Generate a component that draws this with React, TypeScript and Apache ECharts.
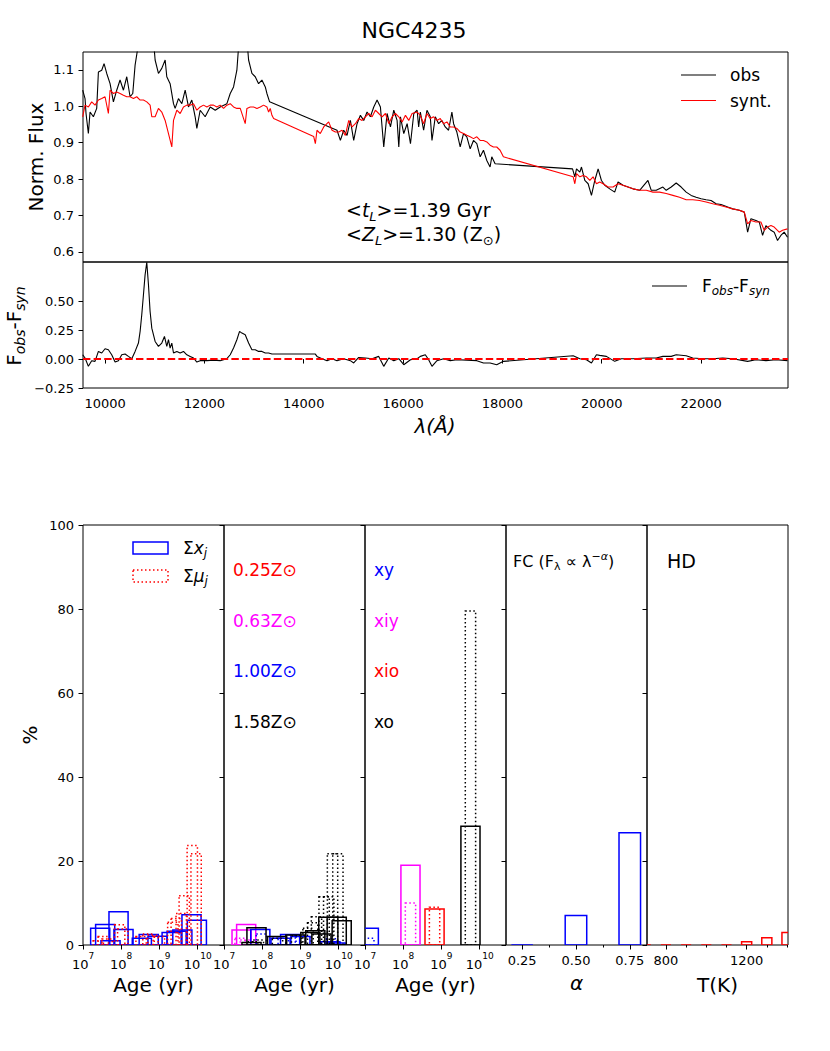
import React, { useEffect, useRef } from "react";
import * as echarts from "echarts";

const FONT = "DejaVu Sans";

// ---------------- spectrum (top panel) ----------------
const obsWave = [9550, 9597, 9617, 9664, 9698, 9765, 9832, 9866, 9933, 9980, 10034, 10101, 10168, 10235, 10302, 10370, 10437, 10504, 10558, 10605, 10652, 10706, 10740, 10773, 10806, 10840, 10874, 10907, 10941, 11008, 11075, 11142, 11210, 11243, 11310, 11378, 11411, 11478, 11546, 11613, 11680, 11747, 11814, 11848, 11915, 12016, 12117, 12218, 12318, 12453, 12520, 12587, 12654, 12708, 12755, 12822, 12870, 12890, 12957, 13024, 13091, 13158, 13226, 13259, 13313, 14670, 14738, 14805, 14872, 14939, 15006, 15074, 15141, 15208, 15275, 15342, 15410, 15477, 15544, 15611, 15678, 15746, 15813, 15880, 15914, 15947, 16014, 16082, 16149, 16216, 16283, 16314, 16348, 16414, 16481, 16548, 16582, 16649, 16716, 16782, 16849, 16916, 16983, 17017, 17083, 17150, 17217, 17284, 17351, 17418, 17485, 17552, 17619, 17686, 17752, 17786, 17853, 19412, 19458, 19492, 19559, 19592, 19659, 19726, 19793, 19860, 19927, 19994, 20061, 20161, 20261, 20328, 20428, 20529, 20629, 20763, 20930, 20997, 21097, 21231, 21298, 21399, 21499, 21599, 21700, 21800, 21900, 22001, 22101, 22201, 22302, 22402, 22536, 22636, 22770, 22870, 22937, 23004, 23104, 23171, 23238, 23305, 23406, 23472, 23539, 23606, 23673, 23740];
const obsFlux = [1.044, 1.021, 0.980, 0.925, 0.984, 0.971, 0.994, 1.094, 1.099, 1.117, 1.090, 1.062, 1.012, 1.044, 1.072, 1.044, 1.081, 1.026, 1.035, 1.113, 1.154, 1.26, 1.40, 1.57, 1.75, 1.85, 1.65, 1.41, 1.24, 1.127, 1.090, 1.104, 1.127, 1.081, 1.062, 1.007, 0.994, 1.021, 1.007, 1.044, 0.998, 1.017, 0.971, 0.939, 0.989, 0.971, 0.998, 0.989, 0.998, 1.007, 1.035, 1.053, 1.099, 1.20, 1.23, 1.21, 1.16, 1.127, 1.090, 1.081, 1.062, 1.072, 1.053, 1.035, 1.012, 0.934, 0.906, 0.934, 0.920, 0.961, 0.906, 0.952, 0.975, 0.961, 0.984, 0.971, 0.998, 1.017, 0.998, 0.888, 0.980, 0.943, 0.989, 0.961, 0.888, 0.971, 0.925, 0.952, 0.897, 0.980, 0.989, 0.943, 0.984, 0.934, 0.989, 0.971, 0.906, 0.971, 0.952, 0.961, 0.943, 0.934, 0.984, 0.952, 0.929, 0.888, 0.925, 0.916, 0.883, 0.906, 0.897, 0.861, 0.879, 0.851, 0.833, 0.861, 0.842, 0.828, 0.806, 0.828, 0.819, 0.833, 0.796, 0.787, 0.755, 0.796, 0.828, 0.796, 0.783, 0.773, 0.764, 0.792, 0.783, 0.778, 0.773, 0.769, 0.796, 0.769, 0.769, 0.778, 0.769, 0.778, 0.789, 0.778, 0.764, 0.755, 0.750, 0.746, 0.743, 0.741, 0.732, 0.730, 0.723, 0.718, 0.714, 0.709, 0.654, 0.691, 0.686, 0.682, 0.645, 0.672, 0.659, 0.654, 0.631, 0.645, 0.654, 0.640];

const synWave = [9550, 9597, 9664, 9731, 9798, 9866, 9933, 10000, 10067, 10101, 10168, 10235, 10302, 10370, 10437, 10504, 10571, 10638, 10706, 10773, 10840, 10907, 10941, 11008, 11075, 11142, 11210, 11277, 11344, 11378, 11445, 11512, 11579, 11646, 11714, 11781, 11848, 11915, 11982, 12050, 12117, 12184, 12251, 12318, 12386, 12453, 12520, 12587, 12654, 12722, 12822, 12856, 12923, 12990, 13058, 13125, 13192, 13259, 13293, 13326, 13360, 13394, 14200, 14234, 14267, 14334, 14402, 14502, 14570, 14637, 14704, 14771, 14838, 14906, 14973, 15040, 15107, 15174, 15242, 15309, 15376, 15443, 15510, 15578, 15645, 15712, 15779, 15846, 15914, 15981, 16048, 16115, 16182, 16283, 16348, 16414, 16481, 16548, 16615, 16682, 16749, 16816, 16883, 16950, 17017, 17083, 17150, 17217, 17284, 17351, 17418, 17485, 17552, 17619, 17686, 17752, 17819, 17886, 17953, 18020, 19425, 19458, 19492, 19559, 19626, 19693, 19760, 19826, 19893, 19960, 20027, 20127, 20228, 20328, 20428, 20529, 20629, 20763, 20897, 21031, 21164, 21298, 21432, 21566, 21700, 21833, 21967, 22101, 22235, 22369, 22502, 22636, 22770, 22870, 22937, 23004, 23104, 23204, 23271, 23338, 23406, 23472, 23573, 23640, 23740];
const synFlux = [0.971, 1.003, 0.998, 1.012, 1.003, 1.017, 1.021, 1.026, 0.980, 1.044, 1.035, 1.039, 1.035, 1.030, 1.026, 1.026, 1.021, 1.026, 1.017, 1.017, 1.012, 1.003, 0.971, 0.971, 0.994, 0.984, 0.961, 0.925, 0.888, 0.961, 0.989, 0.980, 0.998, 1.003, 1.003, 1.007, 0.989, 0.998, 1.003, 0.998, 1.003, 1.003, 0.998, 1.003, 0.994, 1.003, 1.007, 0.998, 0.994, 0.994, 0.952, 0.994, 0.998, 0.998, 0.994, 0.998, 1.003, 0.998, 0.984, 0.994, 0.975, 0.966, 0.917, 0.897, 0.934, 0.925, 0.943, 0.957, 0.934, 0.929, 0.929, 0.934, 0.920, 0.961, 0.943, 0.952, 0.966, 0.961, 0.971, 0.980, 0.971, 0.989, 0.980, 0.971, 0.980, 0.952, 0.971, 0.980, 0.971, 0.957, 0.975, 0.961, 0.980, 0.984, 0.975, 0.952, 0.980, 0.966, 0.971, 0.961, 0.966, 0.952, 0.957, 0.943, 0.943, 0.939, 0.929, 0.925, 0.920, 0.916, 0.911, 0.916, 0.906, 0.906, 0.902, 0.893, 0.888, 0.888, 0.879, 0.861, 0.806, 0.787, 0.815, 0.806, 0.810, 0.806, 0.796, 0.806, 0.787, 0.792, 0.787, 0.778, 0.778, 0.787, 0.783, 0.778, 0.773, 0.769, 0.769, 0.764, 0.764, 0.760, 0.755, 0.750, 0.743, 0.743, 0.741, 0.737, 0.732, 0.728, 0.723, 0.718, 0.714, 0.709, 0.677, 0.686, 0.682, 0.682, 0.659, 0.668, 0.672, 0.668, 0.654, 0.659, 0.663];

// ---------------- residual (middle panel) ----------------
const resWave = [9550, 9597, 9664, 9731, 9798, 9866, 9933, 10000, 10067, 10134, 10202, 10269, 10336, 10403, 10470, 10538, 10605, 10672, 10706, 10739, 10773, 10806, 10840, 10874, 10907, 10941, 11008, 11075, 11142, 11196, 11243, 11277, 11310, 11344, 11378, 11445, 11512, 11579, 11646, 11714, 11781, 11848, 11915, 12050, 12184, 12318, 12453, 12520, 12587, 12654, 12708, 12755, 12822, 12890, 12957, 13024, 13091, 13158, 13226, 13293, 13360, 14234, 14267, 14368, 14469, 14570, 14670, 14805, 14939, 15006, 15107, 15242, 15376, 15510, 15611, 15712, 15813, 15914, 16014, 16149, 16283, 16348, 16448, 16515, 16582, 16682, 16816, 16950, 17083, 17284, 17485, 17619, 17752, 17886, 18020, 19425, 19559, 19693, 19793, 19893, 19960, 20094, 20261, 20395, 20629, 20897, 21097, 21231, 21399, 21499, 21700, 21833, 22034, 22235, 22436, 22636, 22937, 23104, 23305, 23506, 23740];
const resFlux = [0.037, 0.009, -0.063, -0.014, -0.020, 0.066, 0.052, 0.089, 0.080, 0.037, -0.026, -0.014, 0.037, 0.043, 0.023, 0.003, 0.066, 0.138, 0.239, 0.382, 0.555, 0.727, 0.836, 0.641, 0.411, 0.267, 0.152, 0.109, 0.138, 0.195, 0.109, 0.167, 0.095, 0.138, 0.052, 0.066, 0.052, 0.066, 0.037, 0.023, 0.009, -0.026, -0.014, -0.014, -0.009, -0.014, 0.003, 0.037, 0.095, 0.167, 0.239, 0.224, 0.210, 0.138, 0.080, 0.080, 0.066, 0.066, 0.052, 0.052, 0.043, 0.043, 0.023, 0.003, -0.014, 0.003, -0.014, 0.003, -0.014, -0.034, 0.014, 0.009, 0.003, 0.023, -0.063, 0.009, -0.014, 0.003, -0.049, -0.006, 0.003, 0.023, 0.037, -0.006, -0.063, -0.014, 0.003, -0.014, -0.006, -0.009, -0.014, -0.034, -0.034, -0.049, -0.020, 0.029, 0.003, -0.006, -0.034, 0.037, 0.032, 0.023, -0.020, 0.003, 0.003, 0.009, 0.009, 0.023, 0.023, 0.037, 0.029, 0.009, 0.003, 0.003, 0.009, 0.003, -0.020, -0.006, -0.014, -0.006, -0.014];

const fluxTicks = [0.6, 0.7, 0.8, 0.9, 1.0, 1.1];
const resTicks = [-0.25, 0, 0.25, 0.5];
const waveTicks = [10000, 12000, 14000, 16000, 18000, 20000, 22000];

// ---------------- population panels (log10 age in yr, %) ----------------
// panel 1: summed over metallicity
const sumXLogAge = [7.45, 7.58, 7.72, 7.93, 8.06, 8.54, 8.72, 8.95, 9.32, 9.45, 9.6, 9.84, 9.98];
const sumX = [4.0, 4.9, 1.0, 7.9, 3.7, 1.6, 2.5, 2.1, 3.0, 3.3, 3.6, 7.2, 5.9];
const sumMuLogAge = [7.4, 7.53, 7.63, 7.96, 8.04, 8.52, 8.7, 8.83, 9.0, 9.35, 9.44, 9.57, 9.65, 9.86, 9.96];
const sumMu = [1.0, 2.0, 1.4, 4.8, 3.8, 2.0, 2.6, 2.3, 2.0, 5.4, 6.3, 7.5, 11.7, 23.7, 21.7];

// panel 2: per metallicity
const z063XLogAge = [7.46, 7.58];
const z063X = [3.6, 4.9];
const z063MuLogAge = [7.42, 7.56];
const z063Mu = [1.6, 1.2];
const z100XLogAge = [7.95, 8.48, 8.73, 9.0, 9.78, 9.92];
const z100X = [3.7, 1.6, 2.5, 2.0, 0.8, 0.5];
const z100MuLogAge = [7.98, 8.55, 8.75, 9.0, 9.82, 9.95];
const z100Mu = [2.6, 1.6, 2.4, 2.2, 1.5, 0.6];
const z158XLogAge = [7.72, 7.85, 8.39, 8.87, 9.26, 9.39, 9.55, 9.73, 9.95, 10.08];
const z158X = [0.6, 4.1, 2.0, 2.4, 3.0, 3.4, 2.6, 6.6, 6.6, 5.8];
const z158MuLogAge = [7.75, 7.9, 8.4, 8.9, 9.2, 9.32, 9.42, 9.62, 9.74, 9.84, 9.98];
const z158Mu = [0.8, 1.2, 1.6, 2.2, 4.0, 5.3, 6.7, 11.5, 11.5, 21.7, 21.7];

// panel 3: age groups
const groupNames = ["xy", "xiy", "xio", "xo"];
const groupLogAge = [7.1, 8.19, 8.82, 9.76];
const groupX = [4.0, 19.0, 8.6, 28.3];
const groupMu = [1.6, 10.0, 9.0, 79.5];

// panel 4: featureless continuum
const fcAlpha = [0.25, 0.5, 0.75];
const fcX = [0.0, 7.0, 26.7];

// panel 5: hot dust
const hdTemp = [700, 800, 900, 1000, 1100, 1200, 1300, 1400];
const hdX = [0, 0, 0, 0, 0, 0.8, 1.7, 3.0];

const zLabels = ["0.25Z\u2299", "0.63Z\u2299", "1.00Z\u2299", "1.58Z\u2299"];
const pctTicksMax = 100;

const ageTicks = [7, 8, 9, 10];
const alphaTicks = [0.25, 0.5, 0.75];
const alphaMinor = [0.375, 0.625];
const tempTicks = [800, 1200];
const tempMinor = [900, 1000, 1100, 1300, 1400];

// ---------------- styling / layout ----------------
const BLUE = "#0000ff";
const RED = "#ff0000";
const MAG = "#ff00ff";
const BLK = "#000000";
const groupColors = [BLUE, MAG, RED, BLK];
const zColors = [RED, MAG, BLUE, BLK];
const labelYs = [570, 620.5, 671, 722];

const W_MIN = 9556, W_MAX = 23750;
const F_MIN = 0.572, F_MAX = 1.149;
const R_MIN = -0.25, R_MAX = 0.838;
const AGE_MIN = 7, AGE_MAX = 10.69;
const panelLefts = [83, 224, 365, 506, 647];
const X_W = 0.5, MU_W = 0.27;

const zip = (a: number[], b: number[]) => a.map((v, i) => [v, b[i]]);
const hide = { show: false };
const tick = (len = 4.5, customValues?: number[]) => {
  const t: any = { show: true, inside: false, length: len, lineStyle: { color: "#000", width: 1 } };
  if (customValues) t.customValues = customValues;
  return t;
};
const lbl = { fontFamily: FONT, fontSize: 13, color: "#000" };

function richSet(size: number, color = "#000") {
  const lh = Math.round(size * 1.3);
  const ss = Math.round(size * 0.7);
  return {
    n: { fontFamily: FONT, fontSize: size, fill: color, lineHeight: lh },
    i: { fontFamily: FONT, fontSize: size, fill: color, fontStyle: "italic", lineHeight: lh },
    s: { fontFamily: FONT, fontSize: ss, fill: color, fontStyle: "italic", lineHeight: ss, verticalAlign: "bottom" },
    r: { fontFamily: FONT, fontSize: ss, fill: color, lineHeight: ss, verticalAlign: "bottom" },
    p: { fontFamily: FONT, fontSize: ss, fill: color, fontStyle: "italic", lineHeight: ss, verticalAlign: "top" },
  };
}

function txt(x: number, y: number, text: string, size: number, extra: any = {}, el: any = {}) {
  return {
    type: "text",
    x,
    y,
    silent: true,
    ...el,
    style: { text, fontFamily: FONT, fontSize: size, fill: "#000", align: "left", verticalAlign: "middle", ...extra },
  };
}
function rtxt(x: number, y: number, text: string, size: number, align = "left", el: any = {}, color = "#000") {
  return {
    type: "text",
    x,
    y,
    silent: true,
    ...el,
    style: { text, rich: richSet(size, color), fontFamily: FONT, fontSize: size, fill: color, align, verticalAlign: "middle" },
  };
}

function barSeries(xIdx: number, yIdx: number, centers: number[], values: number[], width: number, color: string | string[], dotted: boolean) {
  return {
    type: "custom",
    xAxisIndex: xIdx,
    yAxisIndex: yIdx,
    clip: true,
    silent: true,
    data: zip(centers, values),
    renderItem: (params: any, api: any) => {
      const c = api.value(0);
      const v = api.value(1);
      const p0 = api.coord([c - width / 2, 0]);
      const p1 = api.coord([c + width / 2, v]);
      const col = Array.isArray(color) ? color[params.dataIndex] : color;
      return {
        type: "rect",
        shape: { x: p0[0], y: p1[1], width: p1[0] - p0[0], height: p0[1] - p1[1] },
        style: { fill: "none", stroke: col, lineWidth: 1.5, lineDash: dotted ? [1.5, 2.5] : null },
      };
    },
  };
}

function buildOption() {
  const grids = [
    { left: 83, top: 52, width: 705, height: 210 },
    { left: 83, top: 262, width: 705, height: 126 },
    ...panelLefts.map((l) => ({ left: l, top: 525, width: 141, height: 420 })),
  ].map((g) => ({ ...g, show: true, borderColor: "#000", borderWidth: 1, backgroundColor: "transparent", outerBoundsMode: "none" }));

  const ageAxis = (g: number) => ({
    gridIndex: g,
    type: "value",
    min: AGE_MIN,
    max: AGE_MAX,
    axisLine: hide,
    axisTick: tick(4.5, ageTicks),
    splitLine: hide,
    axisLabel: {
      customValues: ageTicks,
      margin: 6,
      formatter: (v: number) => `{b|10}{e|${Math.round(v)}}`,
      rich: {
        b: { fontFamily: FONT, fontSize: 13, color: "#000", lineHeight: 20, verticalAlign: "bottom" },
        e: { fontFamily: FONT, fontSize: 9, color: "#000", lineHeight: 9, verticalAlign: "top" },
      },
    },
  });

  const xAxis = [
    { gridIndex: 0, type: "value", min: W_MIN, max: W_MAX, axisLine: hide, axisTick: hide, axisLabel: hide, splitLine: hide },
    {
      gridIndex: 1, type: "value", min: W_MIN, max: W_MAX, axisLine: hide, splitLine: hide,
      axisTick: tick(4.5, waveTicks),
      axisLabel: { ...lbl, margin: 9, customValues: waveTicks, formatter: (v: number) => String(Math.round(v)) },
    },
    ageAxis(2),
    ageAxis(3),
    ageAxis(4),
    {
      gridIndex: 5, type: "value", min: 0.175, max: 0.83, axisLine: hide, splitLine: hide,
      axisTick: tick(4.5, alphaTicks),
      axisLabel: { ...lbl, margin: 9, customValues: alphaTicks, formatter: (v: number) => v.toFixed(2) },
    },
    {
      gridIndex: 5, type: "value", min: 0.175, max: 0.83, position: "bottom", axisLine: hide, splitLine: hide,
      axisTick: tick(2.5, alphaMinor), axisLabel: hide,
    },
    {
      gridIndex: 6, type: "value", min: 706, max: 1405, axisLine: hide, splitLine: hide,
      axisTick: tick(4.5, tempTicks),
      axisLabel: { ...lbl, margin: 9, customValues: tempTicks, formatter: (v: number) => String(Math.round(v)) },
    },
    {
      gridIndex: 6, type: "value", min: 706, max: 1405, position: "bottom", axisLine: hide, splitLine: hide,
      axisTick: tick(2.5, tempMinor), axisLabel: hide,
    },
  ];

  const yAxis = [
    {
      gridIndex: 0, type: "value", min: F_MIN, max: F_MAX, axisLine: hide, splitLine: hide,
      axisTick: tick(4.5, fluxTicks),
      axisLabel: { ...lbl, margin: 9, customValues: fluxTicks, formatter: (v: number) => v.toFixed(1) },
    },
    {
      gridIndex: 1, type: "value", min: R_MIN, max: R_MAX, axisLine: hide, splitLine: hide,
      axisTick: tick(4.5, resTicks),
      axisLabel: {
        ...lbl, margin: 9, customValues: resTicks,
        formatter: (v: number) => (v < 0 ? "\u2212" : "") + Math.abs(v).toFixed(2),
      },
    },
    ...[2, 3, 4, 5, 6].map((g) => ({
      gridIndex: g, type: "value", min: 0, max: pctTicksMax, interval: 20, axisLine: hide, splitLine: hide,
      axisTick: tick(4.5),
      axisLabel: g === 2 ? { ...lbl, margin: 9 } : hide,
    })),
  ];

  const series: any[] = [
    {
      type: "line", xAxisIndex: 0, yAxisIndex: 0, data: zip(obsWave, obsFlux), symbol: "none", silent: true,
      lineStyle: { color: BLK, width: 1.1 }, itemStyle: { color: BLK }, clip: true,
    },
    {
      type: "line", xAxisIndex: 0, yAxisIndex: 0, data: zip(synWave, synFlux), symbol: "none", silent: true,
      lineStyle: { color: RED, width: 1.1 }, itemStyle: { color: RED }, clip: true,
    },
    {
      type: "line", xAxisIndex: 1, yAxisIndex: 1, data: zip(resWave, resFlux), symbol: "none", silent: true,
      lineStyle: { color: BLK, width: 1.1 }, itemStyle: { color: BLK }, clip: true,
    },
    {
      type: "line", xAxisIndex: 1, yAxisIndex: 1, data: [[W_MIN, 0], [W_MAX, 0]], symbol: "none", silent: true,
      lineStyle: { color: RED, width: 2, type: [7.4, 3.2] }, itemStyle: { color: RED },
    },
    // panel 1
    barSeries(2, 2, sumXLogAge, sumX, X_W, BLUE, false),
    barSeries(2, 2, sumMuLogAge, sumMu, MU_W, RED, true),
    // panel 2
    barSeries(3, 3, z063XLogAge, z063X, X_W, MAG, false),
    barSeries(3, 3, z063MuLogAge, z063Mu, MU_W, MAG, true),
    barSeries(3, 3, z100XLogAge, z100X, X_W, BLUE, false),
    barSeries(3, 3, z100MuLogAge, z100Mu, MU_W, BLUE, true),
    barSeries(3, 3, z158XLogAge, z158X, X_W, BLK, false),
    barSeries(3, 3, z158MuLogAge, z158Mu, MU_W, BLK, true),
    // panel 3
    barSeries(4, 4, groupLogAge, groupX, X_W, groupColors, false),
    barSeries(4, 4, groupLogAge, groupMu, MU_W, groupColors, true),
    // panel 4
    barSeries(5, 5, fcAlpha, fcX, 0.1, BLUE, false),
    // panel 5
    barSeries(7, 6, hdTemp, hdX, 50, RED, false),
  ];

  const graphic: any[] = [
    txt(414, 30, "NGC4235", 22, { align: "center" }),
    txt(36, 157, "Norm. Flux", 20, { align: "center" }, { rotation: Math.PI / 2 }),
    rtxt(14, 326, "{n|F}{s|obs}{n|-F}{s|syn}", 20, "center", { rotation: Math.PI / 2 }),
    txt(435, 426, "\u03bb(\u00c5)", 20, { align: "center", fontStyle: "italic" }),
    // spectrum legend
    { type: "line", silent: true, shape: { x1: 681, y1: 75, x2: 716, y2: 75 }, style: { stroke: BLK, lineWidth: 1.2 } },
    txt(730, 75, "obs", 17),
    { type: "line", silent: true, shape: { x1: 681, y1: 100.5, x2: 716, y2: 100.5 }, style: { stroke: RED, lineWidth: 1.2 } },
    txt(730, 100.5, "synt.", 17),
    // stats
    rtxt(346, 210, "{n|<}{i|t}{s|L}{n|>=1.39 Gyr}", 19),
    rtxt(346, 234, "{n|<}{i|Z}{s|L}{n|>=1.30 (Z}{r|\u2299}{n|)}", 19),
    // residual legend
    { type: "line", silent: true, shape: { x1: 652, y1: 286, x2: 687, y2: 286 }, style: { stroke: BLK, lineWidth: 1.2 } },
    rtxt(702, 286, "{n|F}{s|obs}{n|-F}{s|syn}", 17),
    // bottom axis titles
    txt(30, 735, "%", 20, { align: "center" }, { rotation: Math.PI / 2 }),
    txt(153.5, 985, "Age (yr)", 20, { align: "center" }),
    txt(294.5, 985, "Age (yr)", 20, { align: "center" }),
    txt(435.5, 985, "Age (yr)", 20, { align: "center" }),
    txt(576.5, 983, "\u03b1", 20, { align: "center", fontStyle: "italic" }),
    txt(717.5, 985, "T(K)", 20, { align: "center" }),
    // panel 1 legend
    { type: "rect", silent: true, shape: { x: 133, y: 542, width: 35, height: 12 }, style: { fill: "none", stroke: BLUE, lineWidth: 1.5 } },
    rtxt(183, 548, "{n|\u03a3}{i|x}{s|j}", 17),
    { type: "rect", silent: true, shape: { x: 133, y: 570, width: 35, height: 12 }, style: { fill: "none", stroke: RED, lineWidth: 1.5, lineDash: [1.5, 2.5] } },
    rtxt(183, 576, "{n|\u03a3}{i|\u03bc}{s|j}", 17),
    // panel 4 / 5 titles
    rtxt(513, 561, "{n|FC (F}{r|\u03bb}{n| \u221d \u03bb}{p|\u2212\u03b1}{n|)}", 16),
    txt(667, 561, "HD", 19),
  ];
  zLabels.forEach((t, i) => graphic.push(txt(233, labelYs[i], t, 17, { fill: zColors[i] })));
  groupNames.forEach((t, i) => graphic.push(txt(374, labelYs[i], t, 17, { fill: groupColors[i] })));

  return {
    animation: false,
    backgroundColor: "#ffffff",
    textStyle: { fontFamily: FONT },
    grid: grids,
    xAxis,
    yAxis,
    series,
    graphic,
  };
}

export default function App() {
  const ref = useRef<HTMLDivElement>(null);
  useEffect(() => {
    const chart = echarts.init(ref.current as HTMLDivElement, null, { renderer: "svg" });
    chart.setOption(buildOption() as any);
    return () => chart.dispose();
  }, []);
  return (
    <div
      ref={ref}
      style={{ position: "fixed", left: 0, top: 0, width: 830, height: 1051, background: "#fff" }}
    />
  );
}
